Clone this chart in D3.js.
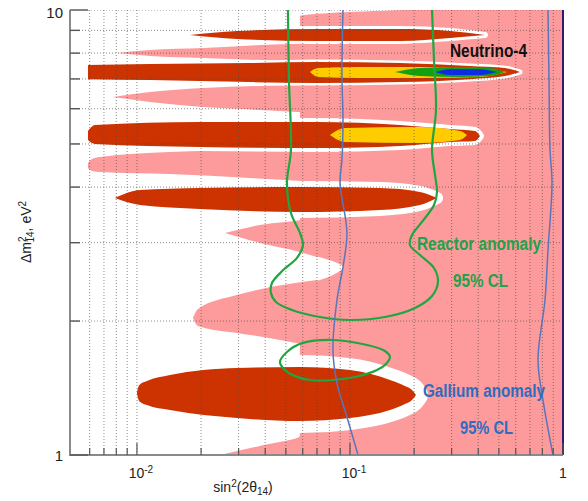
<!DOCTYPE html>
<html><head><meta charset="utf-8">
<script src="https://cdn.jsdelivr.net/npm/d3@7/dist/d3.min.js"></script>
<style>body{margin:0;background:#fff}</style>
</head><body>
<svg id="c" width="588" height="501"></svg>
<script>
// ---------- DATA (sin^2(2θ14), Δm^2_14 in eV^2) ----------
// left edge of the broad pink allowed region: [Δm2, sin2]
const pinkEdge = [[10,0.1852],[9.846,0.0806],[9.694,0.0582],[2.889,0.0582],[2.815,0.0663],[2.74,0.0806],[2.645,0.0927],[2.551,0.085],[2.474,0.0723],[2.41,0.0582],[1.103,0.0582],[1.048,0.0378],[1,0.0245]];
// pink fingers: [sin2, Δm2 low, Δm2 high]
const fingerF1 = [[0.00806,8.002,8.002],[0.01151,7.879,8.126],[0.02041,7.798,8.211],[0.03781,7.717,8.344],[0.07,7.638,8.43]];
const fingerF2 = [[0.00772,6.372,6.372],[0.01151,6.209,6.539],[0.02041,6.051,6.676],[0.03781,5.96,6.748],[0.07,5.866,6.78]];
const fingerF3 = [[0.00589,4.414,4.53],[0.00615,4.347,4.625],[0.0067,4.325,4.674],[0.01429,4.28,4.796],[0.03393,4.193,4.846],[0.07,4.107,4.871]];
const fingerF4 = [[0.02589,3.155,3.155],[0.03781,2.996,3.288],[0.05825,2.859,3.37],[0.07,2.786,3.409]];
const fingerF5 = [[0.01832,2.032,2.032],[0.01934,1.95,2.129],[0.02948,1.88,2.288],[0.0366,1.851,2.349],[0.07,1.749,2.474]];
// dark red (best-fit) islands: [sin2, Δm2 low, Δm2 high]
const lobeA = [[0.01773,8.787,8.787],[0.02948,8.607,8.971],[0.07,8.518,9.064],[0.1717,8.518,9.064],[0.2948,8.651,8.971],[0.4303,8.787,8.787]];
const lobeB = [[0.00589,6.993,7.52],[0.01151,6.958,7.559],[0.03393,6.886,7.598],[0.07,6.85,7.638],[0.1717,6.886,7.598],[0.366,6.993,7.481],[0.5342,7.103,7.403],[0.6284,7.251,7.251]];
const lobeC = [[0.00589,5.104,5.347],[0.00635,4.999,5.515],[0.01976,4.922,5.601],[0.07,4.896,5.601],[0.1717,4.947,5.515],[0.2948,5.051,5.402],[0.386,5.078,5.347],[0.4077,5.21,5.21]];
const lobeD = [[0.00788,3.78,3.78],[0.01033,3.646,3.94],[0.01976,3.571,3.981],[0.05825,3.516,4.002],[0.1383,3.553,3.981],[0.2131,3.646,3.9],[0.2562,3.78,3.78]];
const lobeE = [[0.01,1.378,1.378],[0.01011,1.343,1.414],[0.01033,1.318,1.44],[0.01114,1.295,1.466],[0.01429,1.262,1.512],[0.02948,1.211,1.568],[0.05825,1.192,1.576],[0.1,1.211,1.552],[0.1541,1.262,1.474],[0.1812,1.302,1.429],[0.1955,1.329,1.4],[0.2041,1.364,1.364]];
// Neutrino-4 inner islands
const yellowB = [[0.0649,7.251,7.251],[0.0708,7.066,7.403],[0.1114,7.03,7.442],[0.2131,7.03,7.442],[0.4077,7.066,7.403],[0.5459,7.251,7.251]];
const yellowC = [[0.08056,5.237,5.237],[0.09474,5.051,5.43],[0.2131,5.025,5.458],[0.3284,5.104,5.347],[0.3543,5.237,5.237]];
const greenB = [[0.1627,7.251,7.251],[0.2131,7.103,7.403],[0.3284,7.066,7.442],[0.4543,7.103,7.403],[0.5342,7.251,7.251]];
const blueB = [[0.2507,7.251,7.251],[0.2948,7.14,7.364],[0.4077,7.14,7.364],[0.4899,7.251,7.251]];
// Reactor anomaly 95% CL contours: [sin2, Δm2]
const reactorMain = [[0.05115,10],[0.05171,6.958],[0.05284,4.846],[0.0506,4.086],[0.05284,3.498],[0.05825,3.155],[0.06016,2.965],[0.05639,2.772],[0.04846,2.6],[0.04303,2.435],[0.04257,2.312],[0.04494,2.207],[0.05342,2.118],[0.0723,2.042],[0.1,2.011],[0.146,2.042],[0.2019,2.14],[0.2427,2.277],[0.2589,2.448],[0.248,2.632],[0.2131,2.815],[0.1912,2.965],[0.1955,3.122],[0.2178,3.34],[0.248,3.646],[0.2562,3.9],[0.2507,4.258],[0.2427,4.846],[0.2534,5.96],[0.248,7.717],[0.2427,10]];
const reactorIsland = [[0.04692,1.618],[0.0506,1.704],[0.06016,1.786],[0.08321,1.813],[0.1202,1.767],[0.146,1.713],[0.1541,1.661],[0.1476,1.602],[0.1339,1.552],[0.1056,1.497],[0.08321,1.474],[0.0649,1.474],[0.05518,1.504],[0.04899,1.561]];
// Gallium anomaly 95% CL boundaries: [sin2, Δm2]
const galliumLeft = [[0.0927,10],[0.0917,7.14],[0.0927,5.66],[0.0917,4.601],[0.0898,4.086],[0.0968,3.155],[0.0927,2.645],[0.0869,2.23],[0.0832,1.722],[0.0869,1.451],[0.0968,1.217],[0.1091,1]];
const galliumRight = [[0.8503,10],[0.8596,6.958],[0.869,4.846],[0.888,4.086],[0.8503,2.889],[0.8232,2.23],[0.7632,1.635],[0.8056,1.329],[0.8977,1]];
// axes
const xMajor = [0.01, 0.1, 1];
const xMajorLabels = [["10","-2"],["10","-1"],["1",""]];
const xMinor = [0.006,0.007,0.008,0.009,0.02,0.03,0.04,0.05,0.06,0.07,0.08,0.09,0.2,0.3,0.4,0.5,0.6,0.7,0.8,0.9];
const yMajor = [1, 10];
const yMajorLabels = ["1","10"];
const yMinor = [2,3,4,5,6,7,8,9];

// ---------- DRAW ----------
const PINK = "#fd9a9b", RED = "#cc3300", YEL = "#ffcc00", GRN = "#13a013", BLU = "#0d2be6";
const svg = d3.select("#c");
const x = d3.scaleLog().domain([0.00485, 1]).range([70, 563]);
const y = d3.scaleLog().domain([1, 10]).range([455, 10]);

svg.append("clipPath").attr("id","pc").append("rect")
  .attr("x", x.range()[0]).attr("y", y.range()[1])
  .attr("width", x.range()[1]-x.range()[0]).attr("height", y.range()[0]-y.range()[1]);
const g = svg.append("g").attr("clip-path","url(#pc)");

const band = d3.area().x(d=>x(d[0])).y0(d=>y(d[1])).y1(d=>y(d[2])).curve(d3.curveMonotoneX);

// broad pink region
g.append("path").datum(pinkEdge)
  .attr("d", d3.area().y(d=>y(d[0])).x0(d=>x(d[1])).x1(x(1)).curve(d3.curveMonotoneY))
  .attr("fill", PINK);
[fingerF1, fingerF2, fingerF3, fingerF4, fingerF5].forEach(f =>
  g.append("path").datum(f).attr("d", band).attr("fill", PINK));

// white halos around islands
[[lobeA,6],[lobeB,5],[lobeC,8],[lobeD,12],[lobeE,24]].forEach(([l,w]) =>
  g.append("path").datum(l).attr("d", band).attr("fill","#fff")
    .attr("stroke","#fff").attr("stroke-width", w).attr("stroke-linejoin","round"));
// islands
[lobeA, lobeB, lobeC, lobeD, lobeE].forEach(l =>
  g.append("path").datum(l).attr("d", band).attr("fill", RED));
[[yellowB,YEL],[yellowC,YEL],[greenB,GRN],[blueB,BLU]].forEach(([l,c]) =>
  g.append("path").datum(l).attr("d", band).attr("fill", c));

// dotted grid
const gridC = "#4a4a4a";
[...xMinor, ...xMajor.slice(0,2)].forEach(v =>
  g.append("line").attr("x1", x(v)).attr("x2", x(v)).attr("y1", y(1)).attr("y2", y(10))
   .attr("stroke", gridC).attr("stroke-width", 0.8).attr("stroke-dasharray","1,2").attr("opacity",0.8));
[...yMinor, 10].forEach(v =>
  g.append("line").attr("y1", y(v)).attr("y2", y(v)).attr("x1", x.range()[0]).attr("x2", x(1))
   .attr("stroke", gridC).attr("stroke-width", 0.8).attr("stroke-dasharray","1,2").attr("opacity",0.8));

// contours
const line = d3.line().x(d=>x(d[0])).y(d=>y(d[1]));
g.append("path").datum(reactorMain).attr("d", line.curve(d3.curveCatmullRom))
  .attr("fill","none").attr("stroke","#1fa640").attr("stroke-width",2.2);
g.append("path").datum(reactorIsland).attr("d", d3.line().x(d=>x(d[0])).y(d=>y(d[1])).curve(d3.curveCatmullRomClosed))
  .attr("fill","none").attr("stroke","#1fa640").attr("stroke-width",2.2);
[galliumLeft, galliumRight].forEach(l =>
  g.append("path").datum(l).attr("d", d3.line().y(d=>y(d[1])).x(d=>x(d[0])).curve(d3.curveCatmullRom))
   .attr("fill","none").attr("stroke","#5876bd").attr("stroke-width",1.5));

// frame
svg.append("line").attr("x1", x(1)).attr("x2", x(1)).attr("y1", y(10)).attr("y2", y(1))
  .attr("stroke","#2c1d72").attr("stroke-width",2);
svg.append("line").attr("x1", x.range()[0]).attr("x2", x.range()[0]).attr("y1", y(10)).attr("y2", y(1)+1)
  .attr("stroke","#8a8a8a").attr("stroke-width",2);
svg.append("line").attr("x1", x.range()[0]-1).attr("x2", x(1)).attr("y1", y(1)).attr("y2", y(1))
  .attr("stroke","#8a8a8a").attr("stroke-width",2);

// ticks
const tickC = "#555";
yMajor.forEach(v => svg.append("line").attr("x1", x.range()[0]).attr("x2", x.range()[0]+18)
  .attr("y1", y(v)).attr("y2", y(v)).attr("stroke", tickC).attr("stroke-width",1.4));
yMinor.forEach(v => svg.append("line").attr("x1", x.range()[0]).attr("x2", x.range()[0]+10)
  .attr("y1", y(v)).attr("y2", y(v)).attr("stroke", tickC).attr("stroke-width",1.4));
xMajor.forEach(v => svg.append("line").attr("x1", x(v)).attr("x2", x(v))
  .attr("y1", y(1)).attr("y2", y(1)-12).attr("stroke", tickC).attr("stroke-width",1.2));
xMinor.forEach(v => svg.append("line").attr("x1", x(v)).attr("x2", x(v))
  .attr("y1", y(1)).attr("y2", y(1)-7).attr("stroke", tickC).attr("stroke-width",1.2));

const FONT = "Liberation Sans, Arial, sans-serif";
// tick labels
yMajor.forEach((v,i) => svg.append("text").attr("x", 63).attr("y", y(v)+(v===10?8:6))
  .attr("text-anchor","end").attr("font-family",FONT).attr("font-size",15).attr("fill","#222")
  .text(yMajorLabels[i]));
xMajor.forEach((v,i) => {
  const t = svg.append("text").attr("x", x(v)+(xMajorLabels[i][1]?4:0)).attr("y", 478)
    .attr("text-anchor","middle").attr("font-family",FONT).attr("font-size",14).attr("fill","#222");
  t.append("tspan").text(xMajorLabels[i][0]);
  if (xMajorLabels[i][1]) t.append("tspan").attr("dy",-5).attr("font-size",10).text(xMajorLabels[i][1]);
});
// axis titles
const xl = svg.append("text").attr("x", 243).attr("y", 492).attr("text-anchor","middle")
  .attr("font-family",FONT).attr("font-size",14).attr("fill","#222");
xl.append("tspan").text("sin");
xl.append("tspan").attr("dy",-5).attr("font-size",10).text("2");
xl.append("tspan").attr("dy",5).text("(2θ");
xl.append("tspan").attr("dy",3).attr("font-size",10).text("14");
xl.append("tspan").attr("dy",-3).text(")");

const yl = svg.append("text").attr("transform","translate(31,232) rotate(-90)").attr("text-anchor","middle")
  .attr("font-family",FONT).attr("font-size",14).attr("fill","#222");
yl.append("tspan").text("Δm");
yl.append("tspan").attr("dy",-5).attr("font-size",10).text("2");
yl.append("tspan").attr("dx",-6).attr("dy",8).attr("font-size",10).text("14");
yl.append("tspan").attr("dy",-3).text(", eV");
yl.append("tspan").attr("dy",-5).attr("font-size",10).text("2");

// annotations
function note(txt, x0, yb, len, color, size){
  svg.append("text").attr("x", x0).attr("y", yb).attr("font-family",FONT).attr("font-weight","bold")
    .attr("font-size", size).attr("fill", color).attr("textLength", len).attr("lengthAdjust","spacingAndGlyphs").text(txt);
}
note("Neutrino-4", 450, 57, 77, "#111", 18);
note("Reactor anomaly", 417, 250, 124, "#22a24a", 18);
note("95% CL", 453, 287, 55, "#22a24a", 18);
note("Gallium anomaly", 423, 397, 122, "#2f6cc0", 18);
note("95% CL", 460, 434, 53, "#2f6cc0", 18);
</script>
</body></html>
